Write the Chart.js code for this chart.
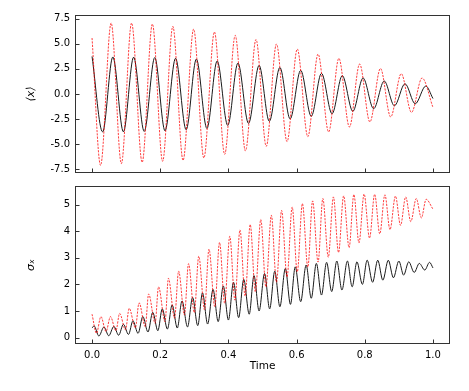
<!DOCTYPE html>
<html>
<head>
<meta charset="utf-8">
<script src="https://cdn.jsdelivr.net/npm/chart.js@4.4.1/dist/chart.umd.min.js"></script>
<style>
  html, body { margin: 0; padding: 0; background: #fff; }
  #wrap { position: relative; width: 469px; height: 391px; }
  #wrap canvas { position: absolute; left: 0; }
  #meanChart { top: 0; }
  #sigmaChart { top: 180px; }
</style>
</head>
<body>
<div id="wrap">
  <canvas id="meanChart" width="469" height="180"></canvas>
  <canvas id="sigmaChart" width="469" height="211"></canvas>
</div>
<script>
// values (extrema of each oscillation)

// <x> - black solid
var tMeanBlack = [0.000, 0.031, 0.061, 0.092, 0.122, 0.153, 0.184, 0.214, 0.245, 0.276, 0.306, 0.337, 0.367, 0.398, 0.428, 0.459, 0.490,
                  0.520, 0.551, 0.581, 0.612, 0.643, 0.673, 0.704, 0.734, 0.765, 0.795, 0.826, 0.857, 0.887, 0.918, 0.948, 0.979, 1.000];
var meanBlack  = [3.73, -3.77, 3.68, -3.76, 3.66, -3.72, 3.62, -3.66, 3.55, -3.55, 3.47, -3.42, 3.28, -3.12, 3.08, -2.92, 2.84,
                  -2.72, 2.64, -2.48, 2.35, -2.22, 2.05, -1.96, 1.82, -1.72, 1.59, -1.46, 1.29, -1.17, 1.02, -0.97, 0.79, -0.45];

// <x> - red dashed
var tMeanRed = [0.000, 0.025, 0.056, 0.086, 0.116, 0.147, 0.177, 0.207, 0.237, 0.267, 0.298, 0.328, 0.359, 0.389, 0.420, 0.450, 0.481,
                0.511, 0.541, 0.572, 0.602, 0.633, 0.663, 0.694, 0.724, 0.755, 0.785, 0.815, 0.846, 0.876, 0.907, 0.937, 0.968, 1.000];
var meanRed  = [5.56, -7.09, 7.05, -6.92, 7.05, -6.79, 6.95, -6.69, 6.72, -6.59, 6.45, -6.36, 6.16, -6.00, 5.82, -5.66, 5.42,
                -5.20, 4.97, -4.74, 4.47, -4.24, 3.97, -3.77, 3.54, -3.28, 2.98, -2.78, 2.54, -2.28, 2.02, -1.83, 1.59, -1.33];

// sigma_x - black solid
var tSigmaBlack = [0.000, 0.006, 0.020, 0.035, 0.049, 0.064, 0.078, 0.092, 0.107, 0.120, 0.135, 0.149, 0.164, 0.178, 0.193, 0.206, 0.221, 0.235,
                   0.250, 0.264, 0.280, 0.295, 0.310, 0.324, 0.339, 0.355, 0.370, 0.385, 0.400, 0.415, 0.430, 0.445, 0.461, 0.475,
                   0.490, 0.506, 0.521, 0.536, 0.551, 0.567, 0.582, 0.596, 0.612, 0.628, 0.643, 0.658, 0.673, 0.688, 0.703, 0.718,
                   0.733, 0.749, 0.763, 0.777, 0.793, 0.807, 0.823, 0.838, 0.853, 0.869, 0.884, 0.900, 0.914, 0.929, 0.945, 0.960,
                   0.976, 0.990, 1.000];
var sigmaBlack  = [0.36, 0.44, 0.06, 0.40, 0.07, 0.42, 0.09, 0.50, 0.12, 0.63, 0.16, 0.79, 0.21, 0.95, 0.26, 1.08, 0.32, 1.23,
                   0.36, 1.38, 0.40, 1.51, 0.45, 1.68, 0.51, 1.81, 0.60, 1.94, 0.66, 2.08, 0.75, 2.19, 0.88, 2.33,
                   1.00, 2.41, 1.08, 2.50, 1.16, 2.60, 1.25, 2.66, 1.35, 2.73, 1.48, 2.79, 1.60, 2.83, 1.73, 2.88,
                   1.79, 2.88, 1.91, 2.85, 2.00, 2.91, 2.08, 2.91, 2.16, 2.91, 2.25, 2.88, 2.35, 2.85, 2.45, 2.79,
                   2.54, 2.83, 2.62];

// sigma_x - red dashed
var tSigmaRed = [0.000, 0.013, 0.026, 0.041, 0.054, 0.070, 0.081, 0.098, 0.109, 0.127, 0.138, 0.156, 0.166, 0.185, 0.195, 0.214, 0.224,
                 0.242, 0.254, 0.271, 0.283, 0.300, 0.313, 0.330, 0.343, 0.360, 0.374, 0.389, 0.404, 0.419, 0.434, 0.449, 0.464,
                 0.479, 0.495, 0.510, 0.526, 0.541, 0.556, 0.572, 0.587, 0.602, 0.617, 0.633, 0.647, 0.663, 0.677, 0.693, 0.708,
                 0.723, 0.738, 0.754, 0.768, 0.783, 0.798, 0.814, 0.829, 0.844, 0.859, 0.874, 0.890, 0.905, 0.920, 0.935, 0.951,
                 0.966, 0.980, 1.000];
var sigmaRed  = [0.88, 0.16, 0.79, 0.23, 0.79, 0.26, 0.91, 0.29, 1.10, 0.37, 1.31, 0.41, 1.64, 0.54, 1.91, 0.60, 2.23,
                 0.73, 2.50, 0.85, 2.78, 0.94, 3.06, 1.04, 3.33, 1.16, 3.58, 1.29, 3.81, 1.41, 4.05, 1.56, 4.25,
                 1.72, 4.44, 1.90, 4.60, 2.08, 4.78, 2.28, 4.91, 2.47, 5.04, 2.65, 5.14, 2.84, 5.23, 3.02, 5.29,
                 3.20, 5.33, 3.38, 5.38, 3.56, 5.40, 3.74, 5.39, 3.90, 5.37, 4.06, 5.32, 4.22, 5.29, 4.36, 5.23,
                 4.50, 5.20, 4.83];

// tick labels
var xTicks       = [0.0, 0.2, 0.4, 0.6, 0.8, 1.0];
var yTicksMean   = [-7.5, -5.0, -2.5, 0.0, 2.5, 5.0, 7.5];
var yTicksSigma  = [0, 1, 2, 3, 4, 5];

var FONT = 'DejaVu Sans';

function points(ts, vs) {
  return ts.map(function (t, i) { return { x: t, y: vs[i] }; });
}

function fixedTicks(list) {
  return function (scale) {
    scale.ticks = list.map(function (v) { return { value: v }; });
  };
}

// matplotlib look: full frame + short inward ticks on left and bottom
var frameTicks = {
  id: 'frameTicks',
  afterDraw: function (chart) {
    var ctx = chart.ctx, a = chart.chartArea;
    var xs = chart.scales.x, ys = chart.scales.y;
    ctx.save();
    ctx.strokeStyle = '#333';
    ctx.lineWidth = 1;
    ctx.strokeRect(Math.round(a.left) + 0.5, Math.round(a.top) + 0.5,
                   Math.round(a.right - a.left) - 1, Math.round(a.bottom - a.top) - 1);
    ctx.beginPath();
    xs.ticks.forEach(function (t) {
      var px = Math.round(xs.getPixelForValue(t.value)) + 0.5;
      ctx.moveTo(px, a.bottom - 1);
      ctx.lineTo(px, a.bottom - 4.5);
    });
    ys.ticks.forEach(function (t) {
      var py = Math.round(ys.getPixelForValue(t.value)) + 0.5;
      ctx.moveTo(a.left + 1, py);
      ctx.lineTo(a.left + 4.5, py);
    });
    ctx.stroke();
    ctx.restore();
  }
};

function blackSet(data) {
  return {
    data: data,
    borderColor: '#1a1a1a',
    borderWidth: 1,
    pointRadius: 0,
    fill: false,
    cubicInterpolationMode: 'monotone',
    order: 2
  };
}

function redSet(data) {
  return {
    data: data,
    borderColor: 'rgba(255,0,0,0.85)',
    borderWidth: 0.9,
    borderDash: [2.2, 1.2],
    pointRadius: 0,
    fill: false,
    cubicInterpolationMode: 'monotone',
    order: 1
  };
}

// no extra room for overflowing tick labels, the frame is placed by hand
function noLabelPadding(s) {
  s.paddingTop = 0;
  s.paddingBottom = 0;
  s.paddingLeft = 0;
  s.paddingRight = 0;
}

function makeOptions(cfg) {
  return {
    responsive: false,
    animation: false,
    events: [],
    layout: { padding: { left: 0, right: 19, top: cfg.padTop, bottom: 0 } },
    plugins: { legend: { display: false }, tooltip: { enabled: false } },
    scales: {
      x: {
        type: 'linear',
        min: -0.05,
        max: 1.05,
        afterBuildTicks: fixedTicks(xTicks),
        afterFit: function (s) { s.height = cfg.xHeight; noLabelPadding(s); },
        grid: { display: false, drawTicks: false },
        border: { display: false },
        ticks: {
          display: cfg.xLabels,
          padding: 5,
          color: '#000',
          font: { family: FONT, size: 10 },
          callback: function (v) { return v.toFixed(1); }
        },
        title: {
          display: cfg.xLabels,
          text: 'Time',
          color: '#000',
          font: { family: FONT, size: 10.5 },
          padding: { top: 0, bottom: 18 }
        }
      },
      y: {
        type: 'linear',
        min: cfg.yMin,
        max: cfg.yMax,
        afterBuildTicks: fixedTicks(cfg.yTicks),
        afterFit: function (s) { s.width = 75; noLabelPadding(s); },
        grid: { display: false, drawTicks: false },
        border: { display: false },
        ticks: {
          padding: 5,
          color: '#000',
          font: { family: FONT, size: 10 },
          callback: cfg.yFormat
        },
        title: {
          display: true,
          text: cfg.yTitle,
          color: '#000',
          font: { family: FONT, size: 11, style: 'italic' },
          padding: { top: 25, bottom: 0 }
        }
      }
    }
  };
}

//- TOP CHART: <x> -
var meanChart = new Chart(document.getElementById('meanChart').getContext('2d'), {
  type: 'line',
  data: { datasets: [blackSet(points(tMeanBlack, meanBlack)), redSet(points(tMeanRed, meanRed))] },
  options: makeOptions({
    padTop: 15, xHeight: 7, xLabels: false,
    yMin: -7.85, yMax: 7.85, yTicks: yTicksMean, yTitle: '⟨x⟩',
    yFormat: function (v) { return v.toFixed(1); }
  }),
  plugins: [frameTicks]
});

//- BOTTOM CHART: sigma_x -
var sigmaChart = new Chart(document.getElementById('sigmaChart').getContext('2d'), {
  type: 'line',
  data: { datasets: [blackSet(points(tSigmaBlack, sigmaBlack)), redSet(points(tSigmaRed, sigmaRed))] },
  options: makeOptions({
    padTop: 6, xHeight: 47, xLabels: true,
    yMin: -0.24, yMax: 5.70, yTicks: yTicksSigma, yTitle: 'σₓ',
    yFormat: function (v) { return String(v); }
  }),
  plugins: [frameTicks]
});
</script>
</body>
</html>
